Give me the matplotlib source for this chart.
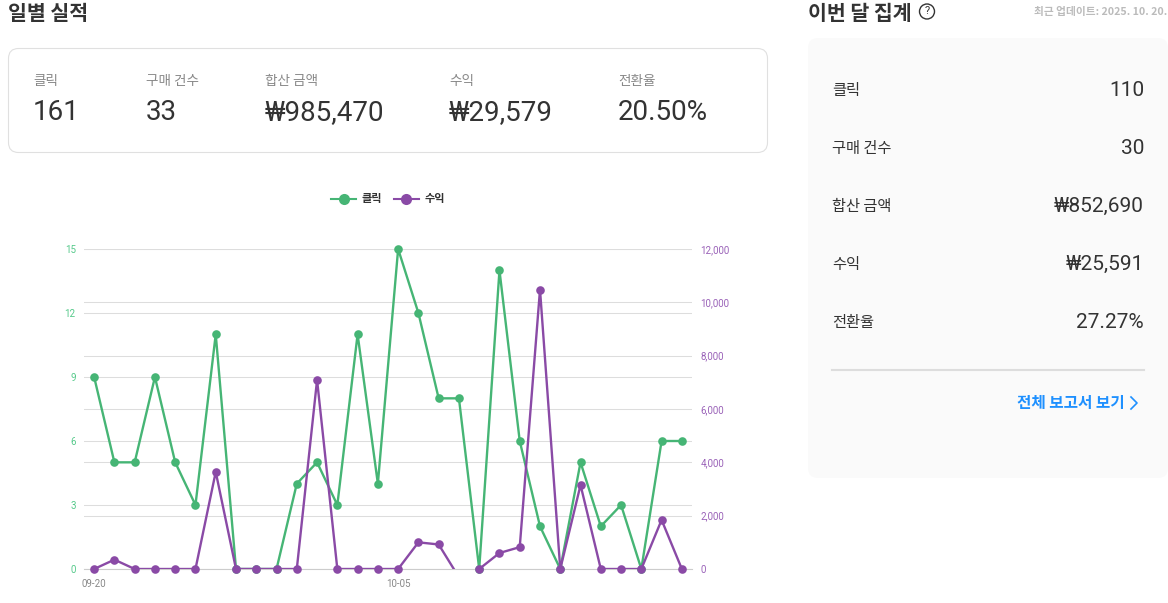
import matplotlib
matplotlib.use('Agg')
import matplotlib.pyplot as plt
import numpy as np
from matplotlib.lines import Line2D
from matplotlib.patches import FancyBboxPatch, Circle

plt.rcParams['font.family'] = ['Roboto', 'Noto Sans CJK KR', 'DejaVu Sans']
KR = ['Noto Sans CJK KR', 'DejaVu Sans']

# Chart data
clicks = [9, 5, 5, 9, 5, 3, 11, 0, 0, 0, 4, 5, 3, 11, 4,
          15, 12, 8, 8, 0, 14, 6, 2, 0, 5, 2, 3, 0, 6, 6]
revenue = [0, 350, 0, 0, 0, 0, 3640, 0, 0, 0, 0, 7090, 0, 0, 0,
           0, 1000, 920, -310, 0, 600, 820, 10480, 0, 3150, 0, 0, 0, 1840, 0]
xtick_pos = [0, 15]
xtick_labels = ['09-20', '10-05']
left_ticks = [0, 3, 6, 9, 12, 15]
right_ticks = [0, 2000, 4000, 6000, 8000, 10000, 12000]

# Summary cards
daily_labels = ['클릭', '구매 건수', '합산 금액', '수익', '전환율']
daily_values = ['161', '33', '₩985,470', '₩29,579', '20.50%']
month_labels = ['클릭', '구매 건수', '합산 금액', '수익', '전환율']
month_values = ['110', '30', '₩852,690', '₩25,591', '27.27%']

GREEN = '#46b575'
PURPLE = '#8a4aa6'
W, H = 1168, 603

fig = plt.figure(figsize=(W/100, H/100), dpi=100)

# background layer in pixel coords
bg = fig.add_axes([0, 0, 1, 1])
bg.set_xlim(0, W)
bg.set_ylim(H, 0)
bg.axis('off')

bg.text(8, 13, '일별 실적', family=KR, fontsize=14.8, fontweight='bold', color='#333333', va='center')
bg.add_patch(FancyBboxPatch((8.5, 48.5), 759, 104, boxstyle='round,pad=0,rounding_size=10',
                            fc='white', ec='#e0e0e0', lw=0.8))
daily_x = [33, 146, 265, 449, 618]
for x, lab, val in zip(daily_x, daily_labels, daily_values):
    bg.text(x, 81, lab, family=KR, fontsize=9.8, color='#888888', va='center')
    bg.text(x, 113, val, fontsize=20, color='#333333', va='center')

bg.text(808, 13, '이번 달 집계', family=KR, fontsize=14.8, fontweight='bold', color='#333333', va='center')
bg.add_patch(Circle((927, 11.5), 7.5, fc='none', ec='#333333', lw=1.0))
bg.text(927, 11.5, '?', fontsize=8, color='#333333', ha='center', va='center')
bg.text(1167, 12, '최근 업데이트: 2025. 10. 20.', family=KR, fontsize=7.7, fontweight='bold',
        color='#bbbbbb', ha='right', va='center')

bg.add_patch(FancyBboxPatch((808, 38), 360, 440, boxstyle='round,pad=0,rounding_size=10',
                            fc='#fafafa', ec='none'))
month_y = [90, 148, 206, 264, 322]
for y, lab, val in zip(month_y, month_labels, month_values):
    bg.text(832, y, lab, family=KR, fontsize=11, color='#333333', va='center')
    bg.text(1144, y, val, fontsize=15, color='#333333', ha='right', va='center')
bg.plot([832, 1144], [370, 370], color='#dddddd', lw=1.5)
bg.text(1125, 403, '전체 보고서 보기', family=KR, fontsize=11.3, fontweight='bold',
        color='#1e90ff', ha='right', va='center')
bg.plot([1131, 1137, 1131], [397, 403, 409], color='#1e90ff', lw=1.2)

# chart
ax = fig.add_axes([84/W, 1-569/H, 608/W, 320/H])
ax.patch.set_alpha(0)
x = np.arange(len(clicks))
ax.set_xlim(-0.5, len(clicks)-0.5)
ax.set_ylim(0, 15)
ax.set_yticks(left_ticks)
ax.set_xticks(xtick_pos)
ax.set_xticklabels(xtick_labels)
ax.tick_params(axis='x', length=0, labelsize=7, labelcolor='#888888', pad=7)
ax.tick_params(axis='y', length=0, labelsize=7, labelcolor='#55c98a', pad=6)
ax.grid(axis='y', color='#dddddd', lw=0.75)
ax.set_axisbelow(True)
for s in ax.spines.values():
    s.set_visible(False)
ax.spines['bottom'].set_visible(True)
ax.spines['bottom'].set_color('#cccccc')

ax2 = ax.twinx()
ax2.set_ylim(0, 12000)
ax2.set_yticks(right_ticks)
ax2.set_yticklabels([f'{v:,}' for v in right_ticks])
ax2.tick_params(axis='y', length=0, labelsize=7, labelcolor='#9a62b8', pad=6)
ax2.grid(axis='y', color='#dddddd', lw=0.75)
ax2.set_axisbelow(True)
for s in ax2.spines.values():
    s.set_visible(False)

# green has to sit under purple, so both series go on ax2 scale
clicks = np.array(clicks)
revenue = np.array(revenue)
scale = 12000/15
ax2.plot(x, clicks*scale, color=GREEN, lw=1.7, zorder=3)
ax2.plot(x, clicks*scale, 'o', color=GREEN, ms=6.2, mew=0, clip_on=False, zorder=3)
ax2.plot(x, revenue, color=PURPLE, lw=1.7, zorder=4)
keep = revenue >= 0
ax2.plot(x[keep], revenue[keep], 'o', color=PURPLE, ms=6.2, mew=0, clip_on=False, zorder=4)

handles = [Line2D([], [], color=GREEN, lw=1.5, marker='o', ms=8, mew=0),
           Line2D([], [], color=PURPLE, lw=1.5, marker='o', ms=8, mew=0)]
fig.legend(handles, ['클릭', '수익'], loc='center', bbox_to_anchor=(388/W, 1-199/H), ncol=2,
           frameon=False, handlelength=2.3, handletextpad=0.5, columnspacing=1.0,
           prop={'family': KR, 'size': 8, 'weight': 'bold'}, labelcolor='#333333')

fig.savefig('out.png', dpi=100)
